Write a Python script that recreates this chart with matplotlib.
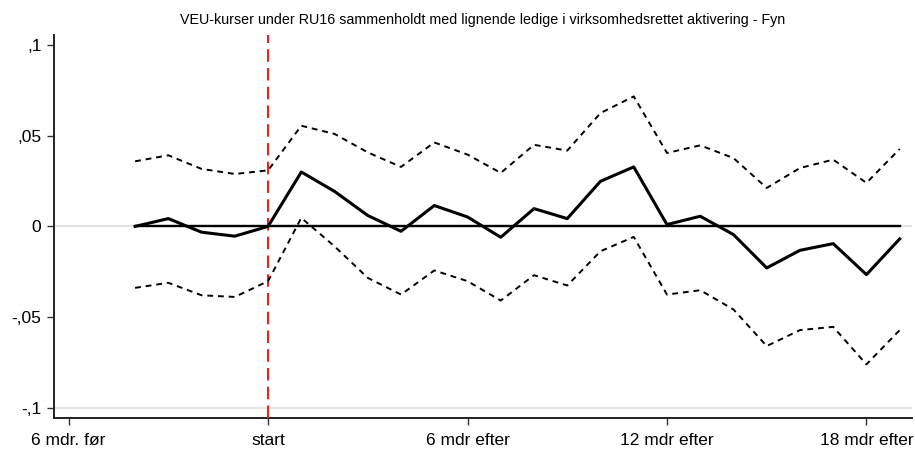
import matplotlib
matplotlib.use('Agg')
import matplotlib.pyplot as plt
import numpy as np

plt.rcParams['font.family'] = ['Liberation Sans', 'DejaVu Sans']

# months relative to start
months = list(range(-4, 20))

estimate = [0.000, 0.0043, -0.0032, -0.0054, 0.000, 0.030, 0.0193, 0.006,
            -0.0027, 0.0115, 0.0052, -0.006, 0.0098, 0.0043, 0.0249, 0.0328,
            0.001, 0.0056, -0.0045, -0.0229, -0.0132, -0.0095, -0.0266, -0.0069]

upper = [0.0359, 0.0392, 0.0317, 0.0289, 0.0309, 0.0555, 0.051, 0.0408,
         0.0328, 0.0463, 0.0396, 0.0295, 0.045, 0.0418, 0.0625, 0.0717,
         0.0405, 0.0447, 0.0377, 0.0212, 0.0322, 0.0368, 0.024, 0.0427]

lower = [-0.0339, -0.0311, -0.038, -0.0389, -0.0302, 0.0047, -0.011, -0.0284,
         -0.0376, -0.0243, -0.0302, -0.0409, -0.0269, -0.0326, -0.0137, -0.0058,
         -0.0376, -0.0352, -0.0458, -0.066, -0.0572, -0.0554, -0.0761, -0.0572]

xticks = [-6, 0, 6, 12, 18]
xticklabels = ['6 mdr. før', 'start', '6 mdr efter', '12 mdr efter', '18 mdr efter']
yticks = [-0.1, -0.05, 0, 0.05, 0.1]
yticklabels = ['-,1', '-,05', '0', ',05', ',1']

title = 'VEU-kurser under RU16 sammenholdt med lignende ledige i virksomhedsrettet aktivering - Fyn'

fig = plt.figure(figsize=(9.15, 4.5), dpi=100)
ax = fig.add_axes([0.059, 0.071, 0.9377, 0.851])

# light grid lines
for yv in [-0.1, 0]:
    ax.axhline(yv, color='#e4e4e4', lw=1.6, zorder=0)

ax.plot([months[0], months[-1]], [0, 0], color='black', lw=1.7, zorder=2)
ax.axvline(0, color='#ff1a1a', lw=1.5, dashes=(6, 3), zorder=3)

ax.plot(months, upper, color='black', lw=1.4, dashes=(3, 2.5), zorder=4)
ax.plot(months, lower, color='black', lw=1.4, dashes=(3, 2.5), zorder=4)
ax.plot(months, estimate, color='black', lw=2.2, zorder=5)

ax.set_xlim(-6.44, 19.37)
ax.set_ylim(-0.1057, 0.1055)

ax.set_xticks(xticks)
ax.set_xticklabels(xticklabels)
ax.set_yticks(yticks)
ax.set_yticklabels(yticklabels)
ax.tick_params(axis='both', labelsize=12.5, length=5, width=1, color='#333333')
ax.tick_params(axis='y', pad=4)
ax.tick_params(axis='x', pad=6)

for side in ['top', 'right']:
    ax.spines[side].set_visible(False)
for side in ['left', 'bottom']:
    ax.spines[side].set_linewidth(1.4)
    ax.spines[side].set_color('#222222')

ax.set_title(title, fontsize=10.3, pad=8)

fig.savefig('out.png', dpi=100)
